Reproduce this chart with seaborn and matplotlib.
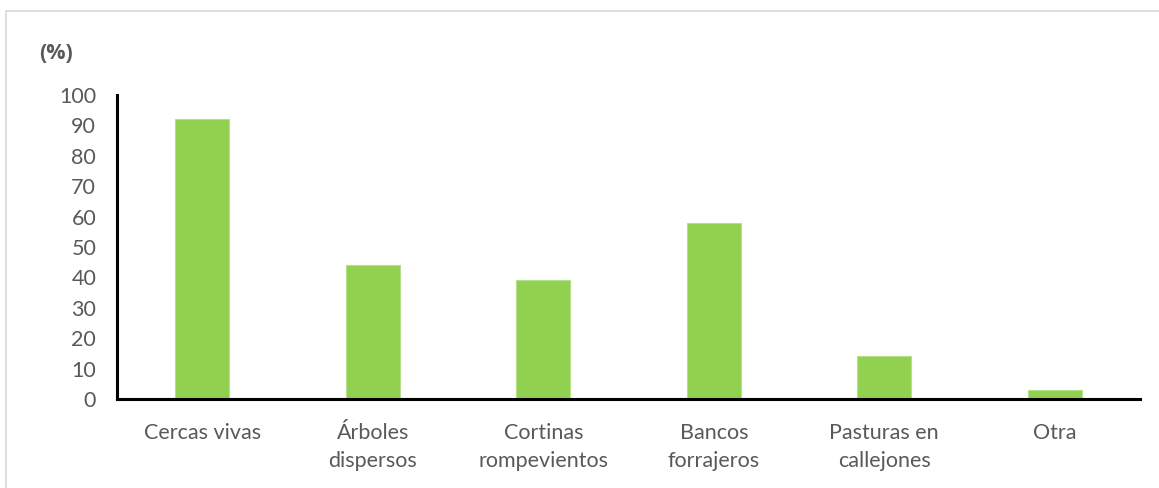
import matplotlib
matplotlib.use("Agg")
import matplotlib.pyplot as plt
import seaborn as sns
import pandas as pd
from matplotlib.patches import Rectangle

categories = ["Cercas vivas", "Árboles\ndispersos", "Cortinas\nrompevientos",
              "Bancos\nforrajeros", "Pasturas en\ncallejones", "Otra"]
values = [92, 44, 39, 58, 14, 3]
yticks = [0, 10, 20, 30, 40, 50, 60, 70, 80, 90, 100]

sns.set_theme(style="white")
plt.rcParams["font.family"] = ["Lato", "DejaVu Sans"]

text_color = "#595959"
bar_color = "#92D050"

fig = plt.figure(figsize=(11.59, 4.88), dpi=100)
ax = fig.add_axes([0.101, 0.1824, 0.8826, 0.6229])

df = pd.DataFrame({"tipo": categories, "pct": values})
sns.barplot(data=df, x="tipo", y="pct", color=bar_color, width=0.315,
            saturation=1, edgecolor="#B5E08A", linewidth=0.8, ax=ax)

ax.set_xlim(-0.5, len(categories) - 0.5)
ax.set_ylim(0, 100)
ax.set_yticks(yticks)
ax.set_xlabel("")
ax.set_ylabel("")

for s in ["top", "right"]:
    ax.spines[s].set_visible(False)
for s in ["left", "bottom"]:
    ax.spines[s].set_color("black")
    ax.spines[s].set_linewidth(2.2)

ax.tick_params(axis="both", length=0, labelsize=15.5, colors=text_color)
ax.tick_params(axis="y", pad=15)
ax.tick_params(axis="x", pad=17)
for lbl in ax.get_xticklabels():
    lbl.set_linespacing(1.5)
    lbl.set_ha("center")

fig.text(0.034, 0.89, "(%)", fontsize=15.5, fontweight="bold", color=text_color,
         family=["Open Sans", "DejaVu Sans"], ha="left", va="center")

# light frame around the whole chart area
fig.patches.append(Rectangle((6 / 1159, -0.01), 1.0, 1 - 11 / 488 + 0.01,
                             transform=fig.transFigure, fill=False,
                             edgecolor="#D9D9D9", linewidth=1.2))

fig.savefig("out.png", dpi=100, facecolor="white")
